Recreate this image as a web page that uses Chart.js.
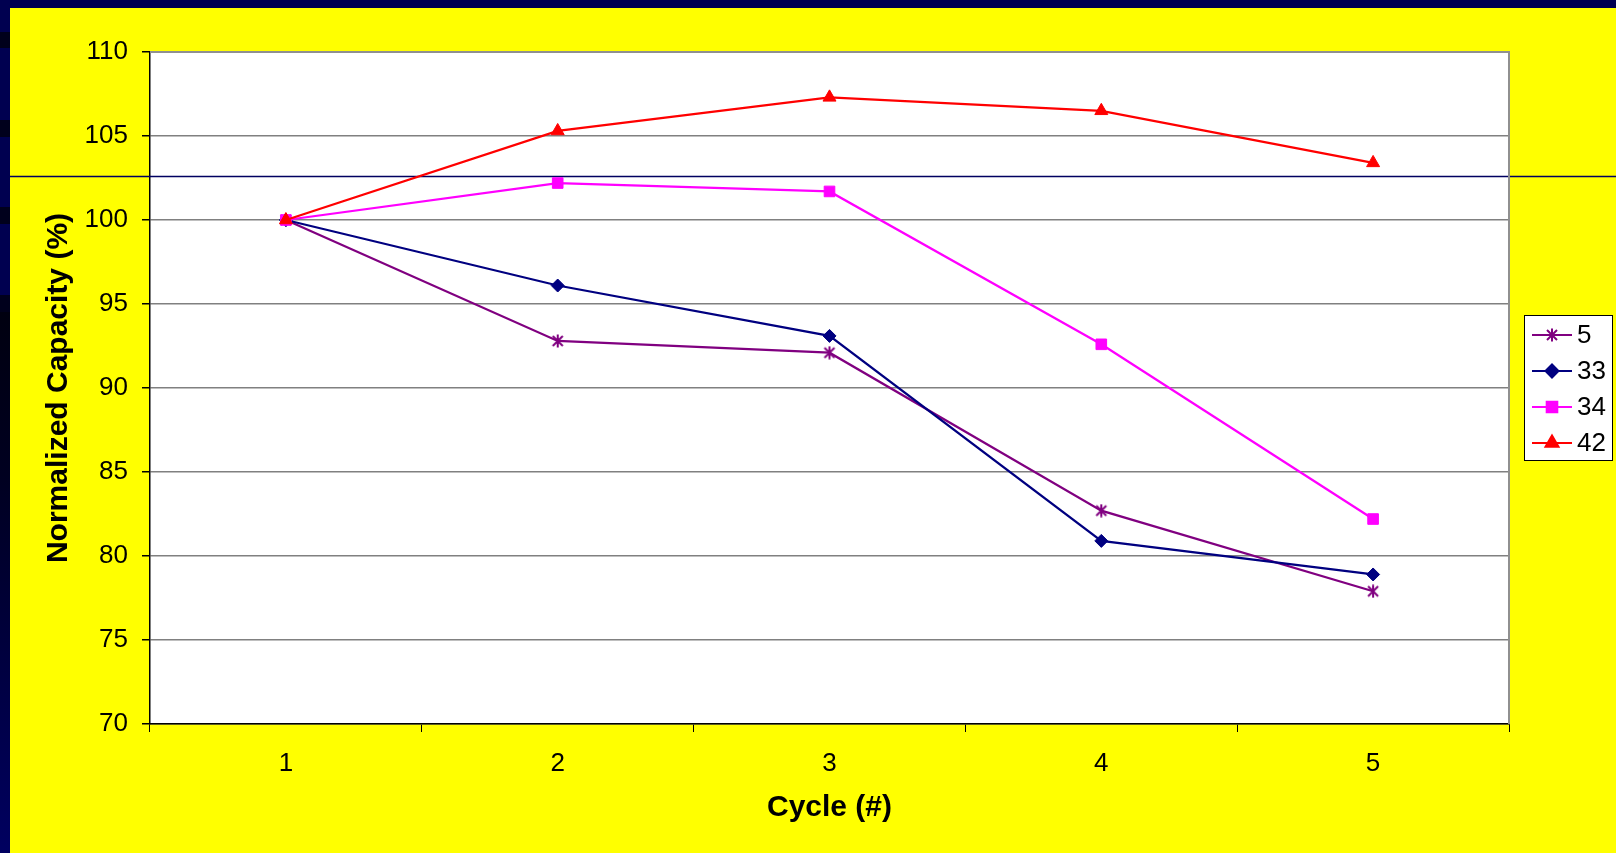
<!DOCTYPE html>
<html>
<head>
<meta charset="utf-8">
<script src="https://cdn.jsdelivr.net/npm/chart.js@4"></script>
<style>
  html, body { margin: 0; padding: 0; background: #000050; overflow: hidden; }
</style>
</head>
<body>
<canvas id="capChart" width="1616" height="853"></canvas>
<script>
const cycles = ['1', '2', '3', '4', '5'];
const seriesNames = ['5', '33', '34', '42'];
const cap5 = [100, 92.8, 92.1, 82.7, 77.9];
const cap33 = [100, 96.1, 93.1, 80.9, 78.9];
const cap34 = [100, 102.2, 101.7, 92.6, 82.2];
const cap42 = [100, 105.3, 107.3, 106.5, 103.4];
const yTicks = [70, 75, 80, 85, 90, 95, 100, 105, 110];

const FONT = "'Liberation Sans', Arial, sans-serif";

// excel style star: X with a vertical bar
function makeStar(color) {
  const c = document.createElement('canvas');
  c.width = 14; c.height = 14;
  const g = c.getContext('2d');
  g.strokeStyle = color;
  g.lineWidth = 2;
  g.beginPath();
  g.moveTo(2, 2); g.lineTo(12, 12);
  g.moveTo(12, 2); g.lineTo(2, 12);
  g.moveTo(7, 0.5); g.lineTo(7, 13.5);
  g.stroke();
  return c;
}

const slideBackground = {
  id: 'slideBackground',
  beforeDraw(chart) {
    const ctx = chart.ctx;
    const a = chart.chartArea;
    ctx.save();
    ctx.fillStyle = '#000050';
    ctx.fillRect(0, 0, chart.width, chart.height);
    // darker bits on the left edge of the slide
    ctx.fillStyle = '#00001c';
    [[32, 16], [120, 17], [207, 17], [295, 17]].forEach(([y, h]) => ctx.fillRect(0, y, 10, h));
    const grad = ctx.createLinearGradient(0, 312, 0, chart.height);
    grad.addColorStop(0, '#000010');
    grad.addColorStop(0.3, '#000020');
    grad.addColorStop(1, '#000060');
    ctx.fillStyle = grad;
    ctx.fillRect(0, 312, 10, chart.height - 312);
    ctx.fillStyle = '#ffff00';
    ctx.fillRect(10, 8, chart.width - 10, chart.height - 8);
    ctx.fillStyle = '#ffffff';
    ctx.fillRect(a.left, a.top, a.right - a.left, a.bottom - a.top);
    ctx.restore();
  },
  beforeDatasetsDraw(chart) {
    const ctx = chart.ctx;
    const a = chart.chartArea;
    ctx.save();
    // slide rule line running across
    ctx.strokeStyle = '#000060';
    ctx.lineWidth = 1.5;
    ctx.beginPath();
    ctx.moveTo(10, 176.5);
    ctx.lineTo(chart.width, 176.5);
    ctx.stroke();
    // plot area frame (top and right)
    ctx.strokeStyle = '#909090';
    ctx.lineWidth = 2;
    ctx.beginPath();
    ctx.moveTo(a.left, a.top);
    ctx.lineTo(a.right, a.top);
    ctx.lineTo(a.right, a.bottom);
    ctx.stroke();
    ctx.restore();
  }
};

const boxLegend = {
  id: 'boxLegend',
  afterDraw(chart) {
    const ctx = chart.ctx;
    ctx.save();
    ctx.fillStyle = '#ffffff';
    ctx.fillRect(1524, 315, 88, 145);
    ctx.strokeStyle = '#000000';
    ctx.lineWidth = 1;
    ctx.strokeRect(1524.5, 315.5, 88, 145);
    chart.data.datasets.forEach((ds, i) => {
      const y = 335 + i * 36;
      ctx.strokeStyle = ds.borderColor;
      ctx.lineWidth = 2;
      ctx.beginPath();
      ctx.moveTo(1532, y);
      ctx.lineTo(1572, y);
      ctx.stroke();
      ctx.fillStyle = ds.backgroundColor;
      Chart.helpers.drawPoint(ctx, { pointStyle: ds.pointStyle, radius: ds.pointRadius, borderWidth: 1, rotation: 0 }, 1552, y);
      ctx.fillStyle = '#000';
      ctx.font = '26px ' + FONT;
      ctx.textAlign = 'left';
      ctx.textBaseline = 'middle';
      ctx.fillText(ds.label, 1577, y + 1);
    });
    ctx.restore();
  }
};

const colors = ['#800080', '#000080', '#ff00ff', '#ff0000'];
const styles = [makeStar('#800080'), 'rectRot', 'rect', 'triangle'];
const radii = [6, 6.5, 7.5, 7.5];
const values = [cap5, cap33, cap34, cap42];

new Chart(document.getElementById('capChart').getContext('2d'), {
  type: 'line',
  data: {
    labels: cycles,
    datasets: seriesNames.map((name, i) => ({
      label: name,
      data: values[i],
      borderColor: colors[i],
      backgroundColor: colors[i],
      pointBorderColor: colors[i],
      pointBackgroundColor: colors[i],
      pointStyle: styles[i],
      pointRadius: radii[i],
      pointBorderWidth: 1,
      borderWidth: 2.25,
      tension: 0,
      order: 3 - i
    }))
  },
  options: {
    responsive: false,
    animation: false,
    devicePixelRatio: 1,
    layout: { padding: { top: 52, right: 107, left: 0, bottom: 0 } },
    plugins: {
      legend: { display: false },
      tooltip: { enabled: false }
    },
    scales: {
      x: {
        type: 'category',
        offset: true,
        afterFit(s) { s.height = 129; },
        grid: { offset: true, drawOnChartArea: false, tickLength: 8, tickColor: '#000' },
        border: { color: '#000', width: 1.5 },
        ticks: { color: '#000', padding: 16, font: { family: FONT, size: 26 } },
        title: {
          display: true,
          text: 'Cycle (#)',
          color: '#000',
          font: { family: FONT, size: 30, weight: 'bold' },
          padding: { top: 0, bottom: 27 }
        }
      },
      y: {
        min: 70,
        max: 110,
        afterFit(s) { s.width = 150; },
        afterBuildTicks(s) { s.ticks = yTicks.map(v => ({ value: v })); },
        grid: { color: '#808080', lineWidth: 1.5, tickLength: 8, tickColor: '#000' },
        border: { color: '#000', width: 1.5 },
        ticks: { color: '#000', padding: 14, font: { family: FONT, size: 26 } },
        title: {
          display: true,
          text: 'Normalized Capacity (%)',
          color: '#000',
          font: { family: FONT, size: 30, weight: 'bold' },
          padding: { top: 41, bottom: 0 }
        }
      }
    }
  },
  plugins: [slideBackground, boxLegend]
});
</script>
</body>
</html>
